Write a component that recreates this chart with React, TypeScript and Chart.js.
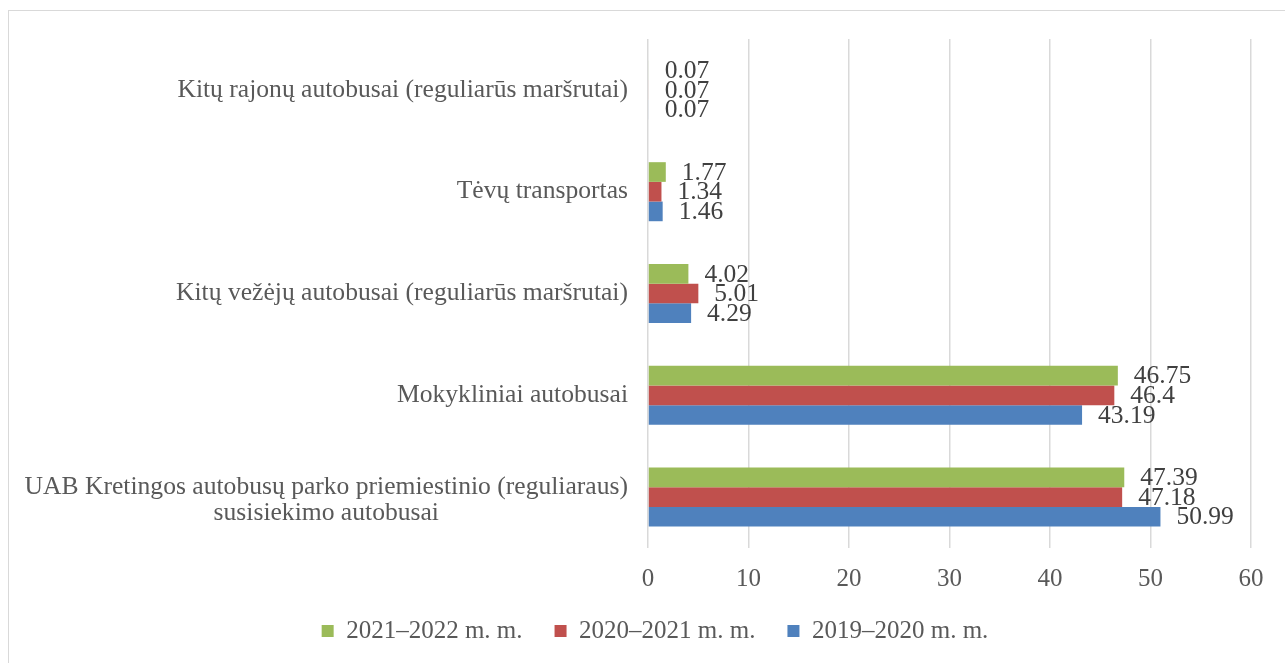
import React, { useEffect, useRef } from "react";
import { Chart, registerables } from "chart.js";

Chart.register(...registerables);

// ---- data ----
const categories: string[][] = [
  ["Kitų rajonų autobusai (reguliarūs maršrutai)"],
  ["Tėvų transportas"],
  ["Kitų vežėjų autobusai (reguliarūs maršrutai)"],
  ["Mokykliniai autobusai"],
  ["UAB Kretingos autobusų parko priemiestinio (reguliaraus)", "susisiekimo autobusai"],
];
const seriesNames = ["2021–2022 m. m.", "2020–2021 m. m.", "2019–2020 m. m."];
const values2021_2022 = [0.07, 1.77, 4.02, 46.75, 47.39];
const values2020_2021 = [0.07, 1.34, 5.01, 46.4, 47.18];
const values2019_2020 = [0.07, 1.46, 4.29, 43.19, 50.99];
const xMin = 0;
const xMax = 60;
const xStep = 10;

const seriesColors = ["#9BBB59", "#C0504D", "#4F81BD"];
const FONT = "'Liberation Serif', serif";

const yLabelsPlugin = {
  id: "yLabels",
  afterDraw(chart: any) {
    const { ctx, chartArea } = chart;
    const yScale = chart.scales.y;
    const rightX = chartArea.left - 20;
    const lineH = 26;
    ctx.save();
    ctx.font = `25.6px ${FONT}`;
    ctx.fillStyle = "#595959";
    ctx.textBaseline = "middle";
    categories.forEach((lines, i) => {
      const cy = yScale.getPixelForTick(i);
      const widths = lines.map((l) => ctx.measureText(l).width);
      const widest = Math.max(...widths);
      const centerX = rightX - widest / 2;
      const startY = lines.length > 1 ? cy - 10 : cy;
      lines.forEach((l, k) => {
        ctx.textAlign = "center";
        ctx.fillText(l, centerX, startY + k * lineH);
      });
    });
    ctx.restore();
  },
};

const dataLabelsPlugin = {
  id: "dataLabels",
  afterDatasetsDraw(chart: any) {
    const { ctx } = chart;
    ctx.save();
    ctx.font = `25.5px ${FONT}`;
    ctx.fillStyle = "#404040";
    ctx.textAlign = "left";
    ctx.textBaseline = "middle";
    chart.data.datasets.forEach((ds: any, di: number) => {
      const meta = chart.getDatasetMeta(di);
      meta.data.forEach((el: any, i: number) => {
        ctx.fillText(String(ds.data[i]), el.x + 16, el.y + 1);
      });
    });
    ctx.restore();
  },
};

const legendShiftPlugin = {
  id: "legendShift",
  afterLayout(chart: any) {
    const lg = chart.legend;
    if (lg) {
      lg.left += 25;
      lg.right += 25;
    }
  },
};

export default function App() {
  const canvasRef = useRef<HTMLCanvasElement | null>(null);

  useEffect(() => {
    const canvas = canvasRef.current;
    if (!canvas) return;
    const chart = new Chart(canvas, {
      type: "bar",
      data: {
        labels: categories,
        datasets: [
          { label: seriesNames[0], data: values2021_2022, backgroundColor: seriesColors[0] },
          { label: seriesNames[1], data: values2020_2021, backgroundColor: seriesColors[1] },
          { label: seriesNames[2], data: values2019_2020, backgroundColor: seriesColors[2] },
        ],
      },
      options: {
        indexAxis: "y",
        responsive: false,
        animation: false,
        datasets: {
          bar: { categoryPercentage: 0.58, barPercentage: 1 },
        },
        layout: { padding: { top: 28, right: 34, bottom: 9.5, left: 0 } },
        scales: {
          x: {
            min: xMin,
            max: xMax,
            ticks: {
              stepSize: xStep,
              color: "#595959",
              font: { family: FONT, size: 25 },
              padding: 16,
            },
            grid: { color: "#d9d9d9", drawTicks: false, lineWidth: 1.5 },
            border: { display: false },
            afterFit: (scale: any) => {
              scale.height = 38.5;
            },
          },
          y: {
            ticks: { display: false },
            grid: { display: false, drawTicks: false },
            border: { display: false },
            afterFit: (scale: any) => {
              scale.width = 639;
            },
          },
        },
        plugins: {
          legend: {
            position: "bottom",
            labels: {
              boxWidth: 12,
              boxHeight: 12,
              padding: 32,
              color: "#595959",
              font: { family: FONT, size: 25 },
            },
          },
          tooltip: { enabled: false },
        },
      },
      plugins: [yLabelsPlugin, dataLabelsPlugin, legendShiftPlugin],
    });
    return () => chart.destroy();
  }, []);

  return (
    <div
      style={{
        position: "fixed",
        left: 8,
        top: 10,
        width: 1276,
        height: 652,
        border: "1px solid #d9d9d9",
        background: "#fff",
      }}
    >
      <canvas ref={canvasRef} width={1276} height={652} style={{ display: "block" }} />
    </div>
  );
}
